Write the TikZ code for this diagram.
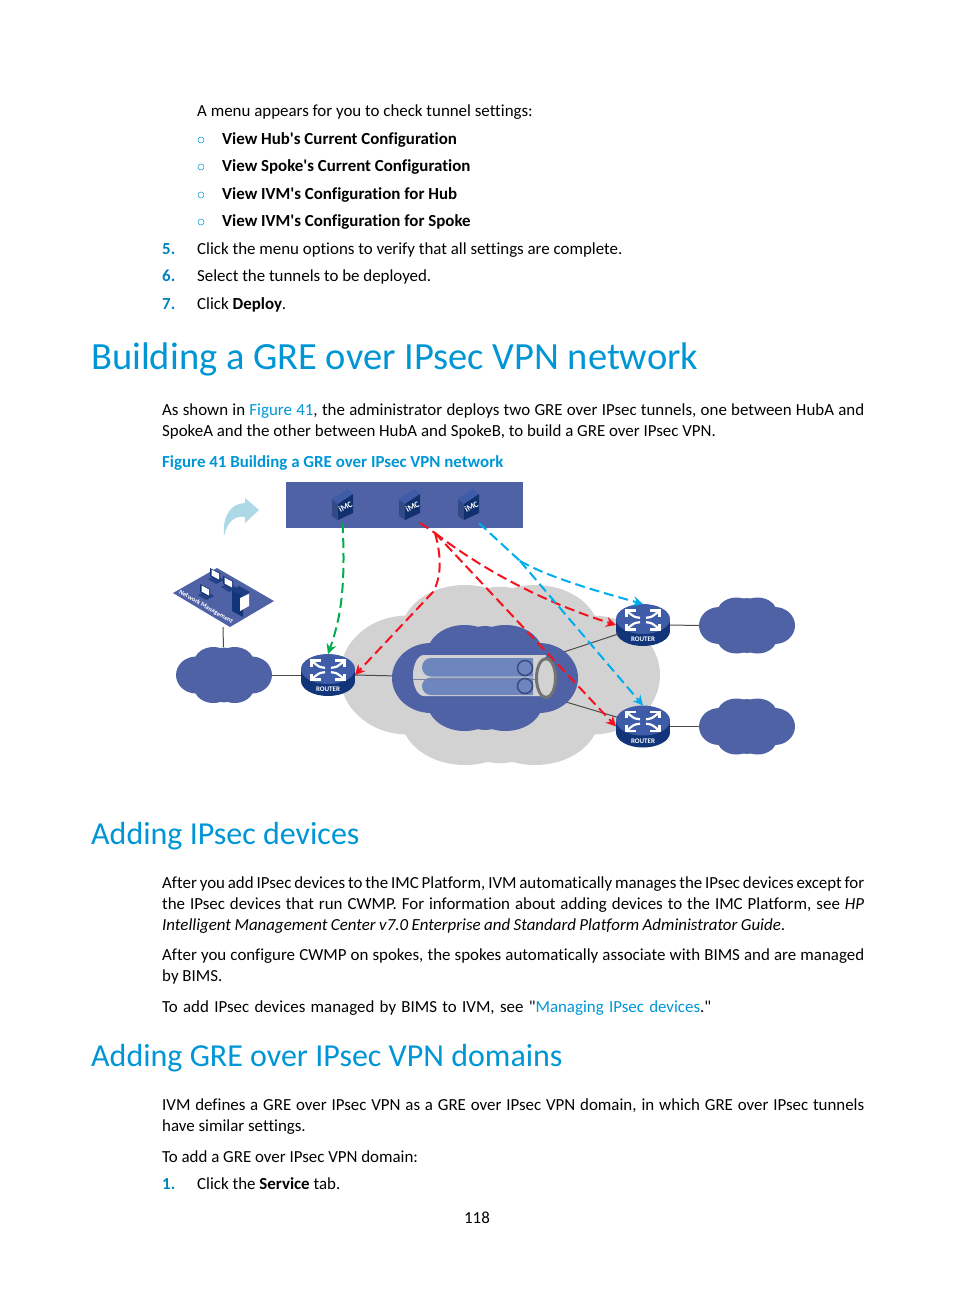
\documentclass[tikz,border=0pt]{standalone}
\usepackage{fontspec}
\setmainfont[Ligatures={TeXOff,NoCommon}]{Carlito}
\usetikzlibrary{shapes.geometric,arrows.meta}

\definecolor{hpblue}{HTML}{0096D6}
\definecolor{stepblue}{HTML}{0082BA}
\definecolor{netblue}{HTML}{4F62A5}
\definecolor{cloudgrey}{HTML}{D2D2D2}
\definecolor{routertop}{HTML}{3F5CA8}
\definecolor{routerside}{HTML}{12357A}
\definecolor{tubeblue}{HTML}{6D86BE}
\definecolor{swoosh}{HTML}{ADD8E6}
\definecolor{flowred}{HTML}{F5121E}
\definecolor{flowgreen}{HTML}{00AE50}
\definecolor{flowcyan}{HTML}{00AEEF}

\tikzset{
  bodytext/.style={anchor=base west,inner sep=0pt,font=\fontsize{16.9}{20}\selectfont},
  boldtext/.style={bodytext,font=\fontsize{16.9}{20}\selectfont\bfseries},
  stepnum/.style={boldtext,text=stepblue},
  bulletmark/.style={anchor=center,circle,draw=hpblue,line width=.5pt,inner sep=0pt,minimum size=6pt},
  bighead/.style={anchor=base west,inner sep=0pt,text=hpblue,font=\fontsize{38.5}{42}\selectfont},
  subhead/.style={anchor=base west,inner sep=0pt,text=hpblue,font=\fontsize{32}{36}\selectfont},
  wire/.style={draw=black!70,line width=1pt},
  redflow/.style={draw=flowred,line width=2pt,dash pattern=on 10pt off 5pt},
  greenflow/.style={draw=flowgreen,line width=2pt,dash pattern=on 10pt off 5pt},
  cyanflow/.style={draw=flowcyan,line width=2pt,dash pattern=on 10pt off 5pt},
  headtip/.style={-{Stealth[length=10pt,width=10pt]}},
  anchorbox/.style={inner sep=0pt,outer sep=0pt},
}

% name, x, y, width, height, colour
\newcommand{\netcloud}[6]{
  \begin{scope}[shift={(#2,#3)}]
    \foreach \sx in {-1,1} {
      \fill[#6] ({\sx*0.29*#4},0) ellipse [x radius={0.21*#4pt},y radius={0.33*#5pt}];
      \fill[#6] ({\sx*0.11*#4},{-0.23*#5}) ellipse [x radius={0.2*#4pt},y radius={0.27*#5pt}];
      \fill[#6] ({\sx*0.11*#4},{0.23*#5}) ellipse [x radius={0.2*#4pt},y radius={0.27*#5pt}];
    }
    \fill[#6] (0,0) ellipse [x radius={0.22*#4pt},y radius={0.49*#5pt}];
    \fill[#6] ({-0.3*#4},{-0.2*#5}) rectangle ({0.3*#4},{0.2*#5});
  \end{scope}
  \node[anchorbox,minimum width=#4pt,minimum height=#5pt] (#1) at (#2,#3) {};
}

% name, x, y
\newcommand{\routericon}[3]{
  \begin{scope}[shift={(#2,#3)}]
    \fill[routerside] (0,6) ellipse [x radius=27pt,y radius=15pt];
    \fill[routerside] (-27,-6) rectangle (27,6);
    \fill[routertop] (0,-6) ellipse [x radius=27pt,y radius=15pt];
    \foreach \sx in {-1,1} \foreach \sy in {-1,1} {
      \draw[white,line width=2.6pt] (\sx*16.5,-5+\sy*9.5) -- (\sx*7,-5+\sy*9.5);
      \draw[white,line width=2.6pt] (\sx*16.5,-5+\sy*10.8) -- (\sx*16.5,-5+\sy*3.5);
      \draw[white,line width=2.2pt] (\sx*15.5,-5+\sy*8.5) .. controls (\sx*9,-5+\sy*3) .. (\sx*3,-5+\sy*2.2);
    }
    \node[anchorbox,text=white,font=\fontsize{7}{8}\selectfont\bfseries] (#1label) at (0,14.5) {ROUTER};
  \end{scope}
  \node[anchorbox,ellipse,minimum width=54pt,minimum height=42pt] (#1) at (#2,#3) {};
}

% name, x
\newcommand{\imcserver}[2]{
  \begin{scope}[shift={(#2,489)}]
    \fill[routertop!80!black] (0,10) -- (6,15) -- (6,31) -- (0,27) -- cycle;
    \fill[routertop] (0,10) -- (15,0) -- (21,5) -- (6,15) -- cycle;
    \fill[routerside!90!black] (6,15) -- (21,5) -- (21,24) -- (6,31) -- cycle;
    \node[anchorbox,text=white,rotate=28,font=\fontsize{8.5}{9}\selectfont\bfseries] (#1label) at (13.5,18) {iMC};
  \end{scope}
  \node[anchorbox,minimum width=21pt,minimum height=34pt] (#1) at (#2+10.5,506) {};
}

\begin{document}
\begin{tikzpicture}[x=1pt,y=-1pt]
\useasboundingbox (0,0) rectangle (954,1296);

% page text above the figure
\node[bodytext] (menuline) at (197,116) {A menu appears for you to check tunnel settings:};
\node[bulletmark] (markA) at (201,140) {};
\node[bulletmark] (markB) at (201,167) {};
\node[bulletmark] (markC) at (201,195) {};
\node[bulletmark] (markD) at (201,222) {};
\node[boldtext] (optA) at (222,144) {View Hub's Current Configuration};
\node[boldtext] (optB) at (222,171) {View Spoke's Current Configuration};
\node[boldtext] (optC) at (222,199) {View IVM's Configuration for Hub};
\node[boldtext] (optD) at (222,226) {View IVM's Configuration for Spoke};
\node[stepnum] (numFive) at (162,254) {5.};
\node[stepnum] (numSix) at (162,281) {6.};
\node[stepnum] (numSeven) at (162,309) {7.};
\node[bodytext] (stepFive) at (197,254) {Click the menu options to verify that all settings are complete.};
\node[bodytext] (stepSix) at (197,281) {Select the tunnels to be deployed.};
\node[bodytext] (stepSeven) at (197,309) {Click \textbf{Deploy}.};
\node[bighead] (headBuild) at (91,369) {Building a GRE over IPsec VPN network};
\node[bodytext] (introA) at (162,415) {\hbox to 702pt{As shown in \textcolor{hpblue}{Figure 41}, the administrator deploys two GRE over IPsec tunnels, one between HubA and}};
\node[bodytext] (introB) at (162,436) {SpokeA and the other between HubA and SpokeB, to build a GRE over IPsec VPN.};
\node[boldtext,text=hpblue] (figCaption) at (162,467) {Figure 41 Building a GRE over IPsec VPN network};

% figure
\netcloud{cloudGrey}{500}{675}{320}{180}{cloudgrey}
\node[anchorbox,fill=netblue,minimum width=237pt,minimum height=46pt] (imcBand) at (404.5,505) {};

\coordinate (hubCentre) at (485,678);
\fill[netblue] (173,593) -- (217,568) -- (274,601) -- (230,627) -- cycle;
\node[anchorbox,minimum size=4pt] (mgmtPlate) at (223,625) {};
\netcloud{cloudMgmt}{224}{675}{96}{56}{netblue}
\netcloud{cloudT}{747}{625.5}{96}{56}{netblue}
\netcloud{cloudB}{747}{726.5}{96}{56}{netblue}
\routericon{routerL}{328}{675}
\routericon{routerT}{643}{625}
\routericon{routerB}{643}{726.5}

\draw[wire] (mgmtPlate) -- (cloudMgmt);
\draw[wire] (cloudMgmt.east) -- (routerL.west);
\draw[wire] (routerL.east) -- (hubCentre);
\draw[wire] (routerT.200) -- (hubCentre);
\draw[wire] (routerB.160) -- (hubCentre);
\draw[wire] (routerT.east) -- (cloudT.west);
\draw[wire] (routerB.east) -- (cloudB.west);

\netcloud{cloudHub}{485}{678}{186}{106}{netblue}

% tunnel
\fill[cloudgrey] (424,655) -- (546,655) -- (546,696) -- (424,696) arc (270:90:11pt and 20.5pt) -- cycle;
\fill[tubeblue] (431,658) -- (533,658) -- (533,676.5) -- (431,676.5) arc (270:90:9pt and 9.25pt) -- cycle;
\fill[tubeblue] (431,677.5) -- (533,677.5) -- (533,695) -- (431,695) arc (270:90:9pt and 8.75pt) -- cycle;
\draw[tubeblue!60!gray,line width=.5pt] (413,679) -- (555,679);
\draw[netblue!75!black,line width=1.5pt,fill=tubeblue] (525,668) circle (7.5pt);
\draw[netblue!75!black,line width=1.5pt,fill=tubeblue] (525,686) circle (7.5pt);
\draw[black!55,line width=3pt,fill=cloudgrey] (546,678) ellipse [x radius=9.5pt,y radius=19.5pt];

% management plate
\foreach \px/\py in {216/575,229/583,206/591} {
  \begin{scope}[shift={(\px,\py)}]
    \fill[routerside!70!netblue] (-8,4) -- (0,9) -- (8,5) -- (0,0) -- cycle;
    \fill[routerside] (-6,-7) -- (4,-2) -- (4,6) -- (-6,1) -- cycle;
    \fill[white] (-4.5,-5.5) -- (3,-1.5) -- (3,4.5) -- (-4.5,.5) -- cycle;
  \end{scope}
}
\fill[routerside] (232,590) -- (243,596) -- (243,617) -- (232,611) -- cycle;
\fill[routerside!80!netblue] (232,590) -- (239,586) -- (250,592) -- (243,596) -- cycle;
\fill[white] (240,598) -- (249,594) -- (249,606) -- (240,611) -- cycle;
\node[anchorbox,rotate=-30,text=white,font=\fontsize{6.5}{7}\selectfont\bfseries] (mgmtLabel) at (206,607) {Network Management};

% servers
\imcserver{imcA}{332}
\imcserver{imcB}{399}
\imcserver{imcC}{458}

% curved arrow
\fill[swoosh] (224,536) .. controls (222,515) and (232,503) .. (245,503) -- (245,498) -- (259,510) -- (245,523) -- (245,517) .. controls (235,515) and (227,522) .. (224,536) -- cycle;

% flows
\coordinate (fanRed) at (435,533);
\coordinate (fanCyan) at (520,561);
\coordinate (bendRed) at (433,592);
\draw[greenflow,headtip] (imcA.south) .. controls (346,590) and (340,620) .. (routerL.north);
\draw[redflow] (imcB.south east) -- (fanRed);
\draw[redflow,headtip] (fanRed) .. controls (442,558) and (441,578) .. (bendRed) -- (routerL.east);
\draw[redflow,headtip] (fanRed) .. controls (470,560) and (530,598) .. (routerT.west);
\draw[redflow,headtip] (fanRed) -- (routerB.west);
\draw[cyanflow] (imcC.south east) -- (fanCyan);
\draw[cyanflow,headtip] (fanCyan) .. controls (550,578) and (600,592) .. (routerT.north);
\draw[cyanflow,headtip] (fanCyan) -- (routerB.north);

% page text below the figure
\node[subhead] (headDevices) at (91,844) {Adding IPsec devices};
\node[bodytext] (devA) at (162,888) {\hbox to 702pt{After you add IPsec devices to the IMC Platform, IVM automatically manages the IPsec devices except for}};
\node[bodytext] (devB) at (162,909) {\hbox to 702pt{the IPsec devices that run CWMP. For information about adding devices to the IMC Platform, see \textit{HP}}};
\node[bodytext] (devC) at (162,930) {\hbox to 623pt{\textit{Intelligent Management Center v7.0 Enterprise and Standard Platform Administrator Guide}.}};
\node[bodytext] (devD) at (162,960) {\hbox to 702pt{After you configure CWMP on spokes, the spokes automatically associate with BIMS and are managed}};
\node[bodytext] (devE) at (162,981) {by BIMS.};
\node[bodytext] (devF) at (162,1012) {\hbox to 549pt{To add IPsec devices managed by BIMS to IVM, see "\textcolor{hpblue}{Managing IPsec devices}."}};
\node[subhead] (headDomains) at (91,1066) {Adding GRE over IPsec VPN domains};
\node[bodytext] (domA) at (162,1110) {\hbox to 702pt{IVM defines a GRE over IPsec VPN as a GRE over IPsec VPN domain, in which GRE over IPsec tunnels}};
\node[bodytext] (domB) at (162,1131) {have similar settings.};
\node[bodytext] (domC) at (162,1162) {To add a GRE over IPsec VPN domain:};
\node[stepnum] (numOne) at (162,1189) {1.};
\node[bodytext] (stepOne) at (197,1189) {Click the \textbf{Service} tab.};
\node[bodytext,anchor=base] (pageNum) at (477,1223) {118};
\end{tikzpicture}
\end{document}
